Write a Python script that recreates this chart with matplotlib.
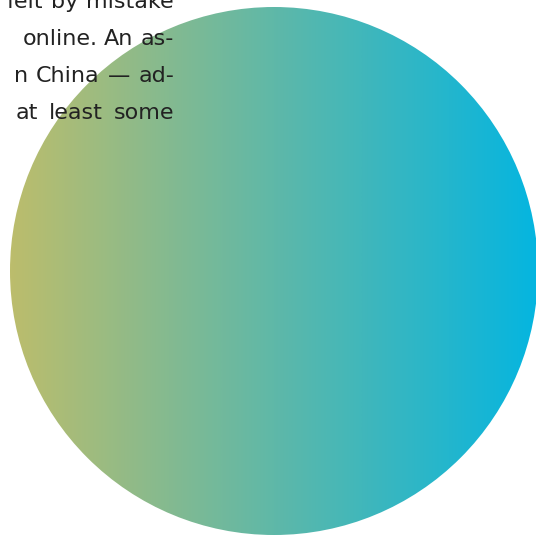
import numpy as np
import matplotlib
matplotlib.use("Agg")
import matplotlib.pyplot as plt
from matplotlib.colors import LinearSegmentedColormap
from matplotlib.patches import Circle

# text fragments visible at the top left (clipped by the image edge)
text_lines = ["feit by mistake", "online. An as-", "n China \u2014 ad-", "at least some"]
# word spacing of the justified lines (px)
word_gaps = [8, 7, 8, 11]
# gradient colours across the circle, left to right
grad_colors = ["#bcbd6c", "#5fb8a8", "#05b5e0"]

W, H = 536, 535
fig = plt.figure(figsize=(W / 100, H / 100), dpi=100)
ax = fig.add_axes([0, 0, 1, 1])
ax.set_xlim(0, W)
ax.set_ylim(H, 0)
ax.axis("off")

cx, cy, r = 274, 271, 264
cmap = LinearSegmentedColormap.from_list("grad", grad_colors)
grad = np.linspace(0, 1, 512).reshape(1, -1)
im = ax.imshow(grad, cmap=cmap, extent=[cx - r, cx + r, cy + r, cy - r],
               aspect="auto", zorder=1, interpolation="bilinear")
circ = Circle((cx, cy), r, transform=ax.transData, facecolor="none", edgecolor="none")
ax.add_patch(circ)
im.set_clip_path(circ)

# justified text: words placed right to left, flush at x=174
renderer = fig.canvas.get_renderer()
for i, (line, gap) in enumerate(zip(text_lines, word_gaps)):
    x = 174
    y = 8 + i * 37
    for word in reversed(line.split(" ")):
        t = ax.text(x, y, word, ha="right", va="baseline", fontsize=16,
                    family="DejaVu Sans", color="#222222", zorder=3)
        w = t.get_window_extent(renderer).width
        x -= w + gap

ax.set_xlim(0, W)
ax.set_ylim(H, 0)
fig.savefig("out.png", dpi=100)
